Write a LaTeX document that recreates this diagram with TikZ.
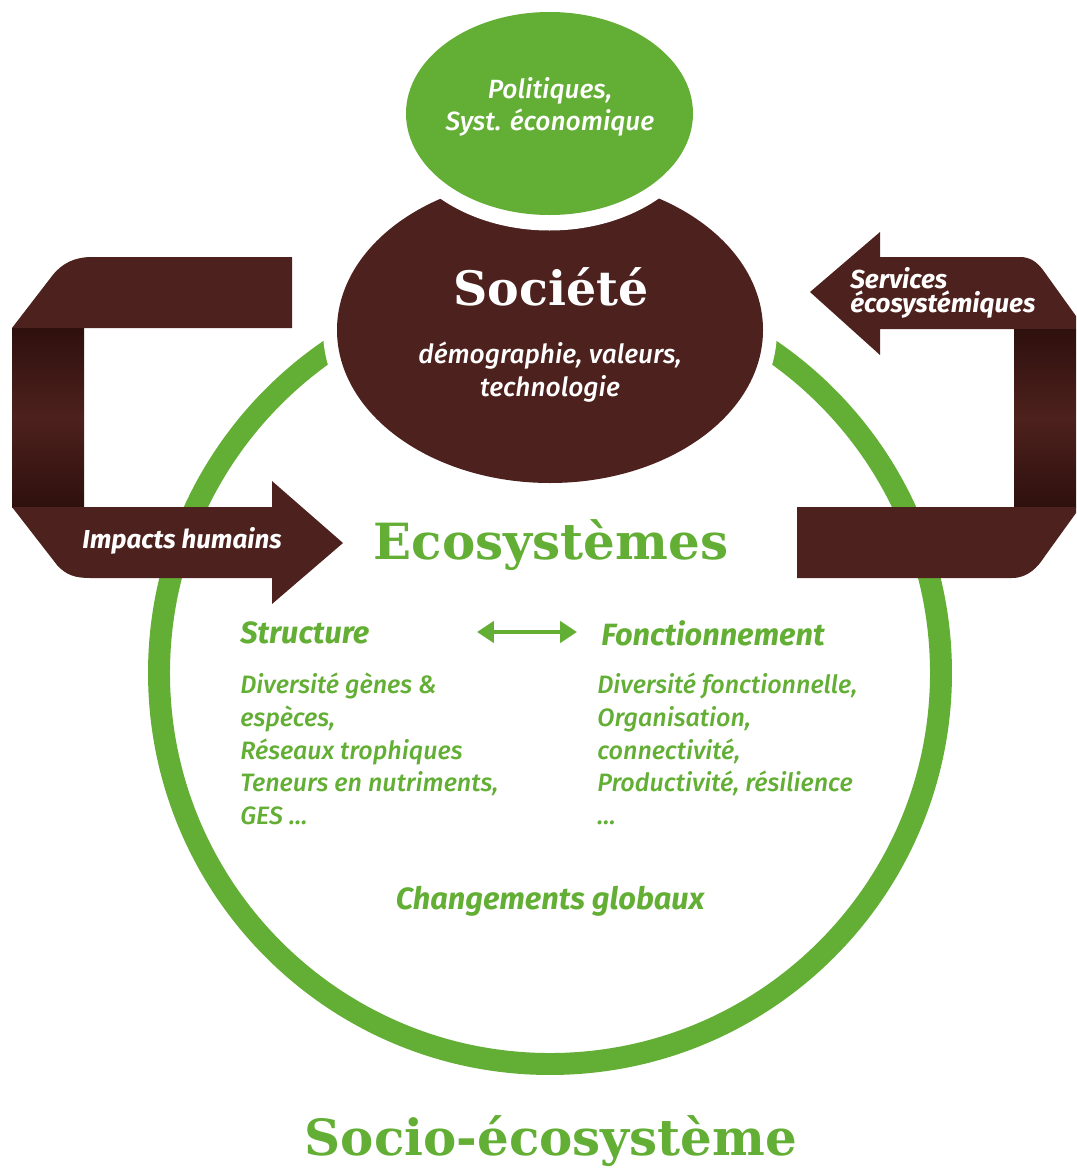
\documentclass[tikz,border=0pt]{standalone}
\usepackage{fontspec}
\setmainfont{Fira Sans}[ItalicFont={Fira Sans Medium Italic},BoldItalicFont={Fira Sans Bold Italic}]
\newfontfamily\titlefont{DejaVu Serif}
\usetikzlibrary{arrows.meta}
\definecolor{eco}{RGB}{99,174,52}
\definecolor{soc}{RGB}{77,33,29}
\definecolor{socdark}{RGB}{46,16,13}

\tikzset{
  lbl/.style={inner sep=0pt, font=\itshape\fontsize{14.3}{18.7}\selectfont, text=eco, align=left},
  inlbl/.style={inner sep=0pt, font=\itshape\fontsize{15}{18.4}\selectfont, text=white, align=center},
  head/.style={inner sep=0pt, font=\bfseries\itshape\fontsize{17.5}{20}\selectfont, text=eco},
  big/.style={inner sep=0pt, font=\titlefont\bfseries\fontsize{28.4}{32}\selectfont},
  tag/.style={inner sep=0pt, font=\bfseries\itshape\fontsize{14.8}{13.6}\selectfont, text=white, align=left},
  twoway/.style={draw=eco, line width=2.3pt, {Triangle[length=9.6pt,width=12pt]}-{Triangle[length=9.6pt,width=12pt]}},
  ribbon/.style={fill=soc},
  band/.style={top color=socdark, bottom color=socdark, middle color=soc},
  ring/.style={draw=eco, line width=12.5pt},
}

\begin{document}
\begin{tikzpicture}[x=0.02cm, y=-0.02cm]
    \useasboundingbox (0,0) rectangle (1076,1173);

    % anneau du socio-ecosysteme
    \draw[ring] (550,673) circle [radius=391];

    % Societe
    \fill[white] (550,330) ellipse [x radius=227, y radius=167];
    \fill[soc] (550,330) ellipse [x radius=213, y radius=153];
    % Politiques
    \fill[white] (549.5,113.5) ellipse [x radius=159, y radius=117];
    \fill[eco] (549.5,113.5) ellipse [x radius=143.5, y radius=101.5];

    % fleche de gauche : impacts humains
    \fill[ribbon] (12,328) -- (52,276) .. controls (62,263) and (75,257) .. (92,257)
        -- (292,257) -- (292,328) -- cycle;
    \shade[band] (12,328) rectangle (84,507);
    \fill[ribbon] (12,507) -- (57,565) .. controls (66,575) and (75,578) .. (90,578)
        -- (272,578) -- (272,604) -- (343,543) -- (272,481) -- (272,507) -- cycle;

    % fleche de droite : services
    \fill[ribbon] (810,292) -- (880,232) -- (880,257) -- (1020,257)
        .. controls (1030,257) and (1037,262) .. (1043,270) -- (1076,316)
        -- (1076,329) -- (880,329) -- (880,355) -- cycle;
    \shade[band] (1014,329) rectangle (1076,507);
    \fill[ribbon] (797,507) -- (1076,507) -- (1076,513) -- (1045,556)
        .. controls (1038,567) and (1028,578) .. (1012,578) -- (797,578) -- cycle;

    % textes
    \node[inlbl] (pol) at (550,107) {Politiques,\\Syst. économique};
    \node[big, text=white, font=\titlefont\bfseries\fontsize{27}{30}\selectfont] (soctitle) at (551,287) {Société};
    \node[inlbl] (socsub) at (550,372) {démographie, valeurs,\\technologie};
    \node[tag, anchor=west] (serv) at (850,293) {Services\\écosystémiques};
    \node[tag] (imp) at (182,541) {Impacts humains};
    \node[big, text=eco] (eco) at (551,545) {Ecosystèmes};

    \node[head, anchor=west] (struct) at (240,633) {Structure};
    \node[head, anchor=west] (fonct) at (601,633) {Fonctionnement};
    \coordinate (la) at (477,632);
    \coordinate (ra) at (577,632);
    \draw[twoway] (la) -- (ra);

    \node[lbl, anchor=west] (structlist) at (240,749) {Diversité gènes \&\\espèces,\\Réseaux trophiques\\Teneurs en nutriments,\\GES …};
    \node[lbl, anchor=west] (fonctlist) at (597,749) {Diversité fonctionnelle,\\Organisation,\\connectivité,\\Productivité, résilience\\…};

    \node[head] (chg) at (550,901) {Changements globaux};
    \node[big, text=eco] (socio) at (551,1141) {Socio-écosystème};
\end{tikzpicture}
\end{document}
